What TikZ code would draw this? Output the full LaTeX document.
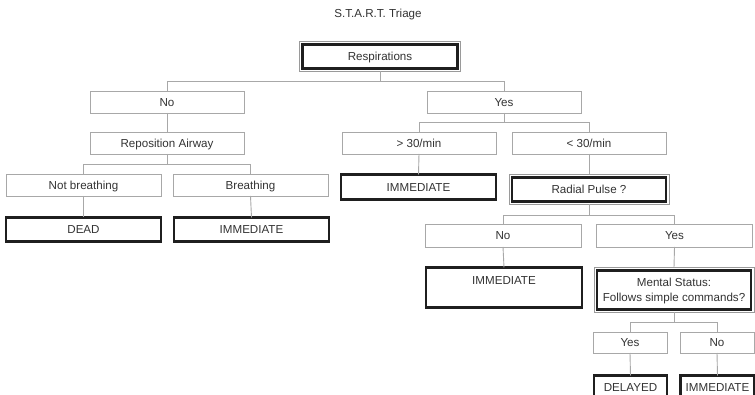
\documentclass[tikz,border=0pt]{standalone}
\usepackage{fontspec}
\setmainfont{Liberation Sans}
\usetikzlibrary{fit}
\definecolor{txt}{HTML}{333333}
\definecolor{lgray}{HTML}{A8A8A8}
\definecolor{ogray}{HTML}{9A9A9A}
\begin{document}
\begin{tikzpicture}[x=1pt,y=-1pt,
  every node/.style={inner sep=0pt, outer sep=0pt, text=txt, font=\fontsize{11.6}{15}\selectfont},
  plainbox/.style={draw=lgray, line width=0.9pt, fill=white, minimum height=22pt, text height=8.2pt, text depth=0pt},
  heavybox/.style={draw=black!88, line width=2.4pt, fill=white, text height=8.2pt, text depth=0pt},
  outerbox/.style={draw=ogray, line width=1pt, inner sep=3pt},
  conn/.style={draw=lgray, line width=0.9pt},
  lbl/.style={inner sep=0pt, text height=8.2pt, text depth=0pt}
]
\useasboundingbox (0,0) rectangle (755,395);
\clip (0,0) rectangle (755,395);
\fill[white] (0,0) rectangle (755,395);

% title
\node[text height=8.2pt, text depth=0pt] (title) at (378,13) {S.T.A.R.T. Triage};

% coordinates for bars
\coordinate (b1) at (0,81);
\coordinate (b2) at (0,122);
\coordinate (b3) at (0,164);
\coordinate (b4) at (0,215);
\coordinate (b5) at (0,322);

% nodes
\node[heavybox, minimum width=155pt, minimum height=24pt] (resp) at (380,56.5) {Respirations};
\node[outerbox, fit=(resp)] (respo) {};

\node[plainbox, minimum width=154pt] (no1) at (167,102) {No};
\node[plainbox, minimum width=154pt] (yes1) at (504,102) {Yes};

\node[plainbox, minimum width=154pt] (repo) at (167,143) {Reposition Airway};
\node[plainbox, minimum width=154pt] (gt30) at (419,143) {> 30/min};
\node[plainbox, minimum width=154pt] (lt30) at (589,143) {< 30/min};

\node[plainbox, minimum width=155pt] (notb) at (83.5,185) {Not breathing};
\node[plainbox, minimum width=155pt] (breath) at (250.5,185) {Breathing};

\node[heavybox, minimum width=155pt, minimum height=24pt] (dead) at (83.5,229.5) {DEAD};
\node[heavybox, minimum width=155pt, minimum height=24pt] (imm1) at (251.5,229.5) {IMMEDIATE};

\node[heavybox, minimum width=155pt, minimum height=25pt] (imm2) at (418.5,187) {IMMEDIATE};
\node[heavybox, minimum width=154pt, minimum height=24pt] (radial) at (589,189.5) {Radial Pulse ?};
\node[outerbox, fit=(radial)] (radialo) {};

\node[plainbox, minimum width=156pt, minimum height=23pt] (no2) at (503,235.5) {No};
\node[plainbox, minimum width=156pt, minimum height=23pt] (yes2) at (674.5,235.5) {Yes};

\node[heavybox, minimum width=156pt, minimum height=40pt,
  label={[lbl,anchor=north,yshift=-9pt]north:IMMEDIATE}] (imm3) at (504,287.5) {};
\node[heavybox, minimum width=154pt, minimum height=39pt, align=center, text height=23.2pt, text depth=0pt] (mental) at (674,290) {Mental Status:\\Follows simple commands?};
\node[outerbox, fit=(mental)] (mentalo) {};

\node[plainbox, minimum width=74pt, minimum height=21pt] (yes3) at (630,342.5) {Yes};
\node[plainbox, minimum width=74pt, minimum height=21pt] (no3) at (717,342.5) {No};

\node[heavybox, minimum width=73pt, minimum height=24pt] (delayed) at (630.5,387.5) {DELAYED};
\node[heavybox, minimum width=74pt, minimum height=24pt] (imm4) at (717.5,387.5) {IMMEDIATE};

% connectors
\draw[conn] (respo.south) -- (respo.south |- b1);
\draw[conn] (no1.north) |- (yes1.north |- b1) -- (yes1.north);

\draw[conn] (no1.south) -- (repo.north);

\draw[conn] (yes1.south) -- (yes1.south |- b2);
\draw[conn] (gt30.north) |- (lt30.north |- b2) -- (lt30.north);

\draw[conn] (repo.south) -- (repo.south |- b3);
\draw[conn] (notb.north) |- (breath.north |- b3) -- (breath.north);

\draw[conn] (notb.south) -- (dead.north);
\draw[conn] (breath.south) -- (imm1.north);
\draw[conn] (gt30.south) -- (imm2.north);
\draw[conn] (lt30.south) -- (radialo.north);

\draw[conn] (radialo.south) -- (radialo.south |- b4);
\draw[conn] (no2.north) |- (yes2.north |- b4) -- (yes2.north);

\draw[conn] (no2.south) -- (imm3.north);
\draw[conn] (yes2.south) -- (mentalo.north);

\draw[conn] (mentalo.south) -- (mentalo.south |- b5);
\draw[conn] (yes3.north) |- (no3.north |- b5) -- (no3.north);

\draw[conn] (yes3.south) -- (delayed.north);
\draw[conn] (no3.south) -- (imm4.north);
\end{tikzpicture}
\end{document}
